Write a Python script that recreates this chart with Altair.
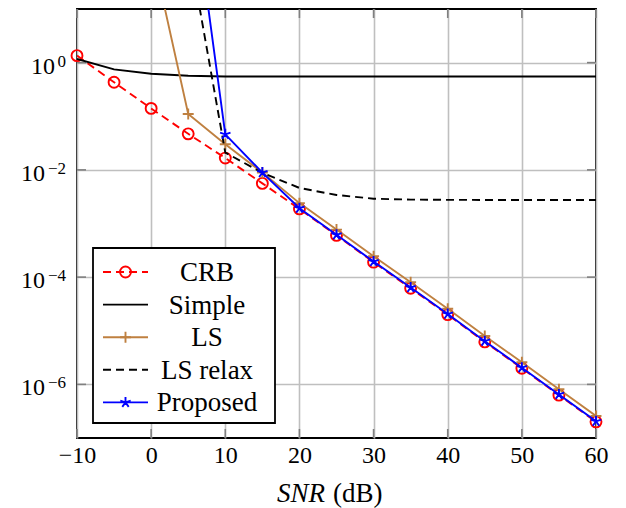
import altair as alt
import pandas as pd

# ---------------- data ----------------
snr = [-10, -5, 0, 5, 10, 15, 20, 25, 30, 35, 40, 45, 50, 55, 60]
crb = [1.35, 0.43, 0.14, 0.047, 0.0166, 0.0056, 0.00187, 6.0e-4, 1.9e-4,
       6.2e-5, 2.0e-5, 6.2e-6, 2.0e-6, 6.3e-7, 2.0e-7]
simple = [1.17, 0.75, 0.62, 0.57, 0.55, 0.55, 0.55, 0.55, 0.55, 0.55,
          0.55, 0.55, 0.55, 0.55, 0.55]

ls_snr = [0, 5, 10, 15, 20, 25, 30, 35, 40, 45, 50, 55, 60]
ls = [145, 0.11, 0.030, 0.0089, 0.0024, 7.7e-4, 2.45e-4, 8.0e-5, 2.58e-5,
      8.0e-6, 2.58e-6, 8.1e-7, 2.58e-7]

relax_snr = [5, 10, 15, 20, 25, 30, 35, 40, 45, 50, 55, 60]
ls_relax = [166, 0.021, 0.0088, 0.0046, 0.0034, 0.0029, 0.00279, 0.00276,
            0.00275, 0.00275, 0.00275, 0.00275]

prop_snr = [5, 10, 15, 20, 25, 30, 35, 40, 45, 50, 55, 60]
proposed = [6300, 0.046, 0.0089, 0.00193, 6.15e-4, 1.95e-4, 6.4e-5, 2.05e-5,
            6.4e-6, 2.05e-6, 6.5e-7, 2.05e-7]

series_names = ["CRB", "Simple", "LS", "LS relax", "Proposed"]
x_ticks = [-10, 0, 10, 20, 30, 40, 50, 60]
y_ticks = [1, 1e-2, 1e-4, 1e-6]
y_exponents = ["0", "\u22122", "\u22124", "\u22126"]

rows = []
for name, xs, ys in [("CRB", snr, crb), ("Simple", snr, simple),
                     ("LS", ls_snr, ls), ("LS relax", relax_snr, ls_relax),
                     ("Proposed", prop_snr, proposed)]:
    for a, b in zip(xs, ys):
        rows.append({"snr": a, "value": b, "series": name})
df = pd.DataFrame(rows)

# ---------------- styles ----------------
W, H = 519, 429
FONT = "Liberation Serif"
LW = 1.9
PLUS = "M-1,0L1,0M0,-1L0,1"
STAR = ("M0,-1L0,0M0.951,-0.309L0,0M0.588,0.809L0,0"
        "M-0.588,0.809L0,0M-0.951,-0.309L0,0")
styles = {
    "CRB": dict(color="#ff0000", dash=[8, 5], shape="circle", size=120),
    "Simple": dict(color="#000000", dash=None, shape=None, size=0),
    "LS": dict(color="#bf8040", dash=None, shape=PLUS, size=120),
    "LS relax": dict(color="#000000", dash=[8, 5], shape=None, size=0),
    "Proposed": dict(color="#0000ff", dash=None, shape=STAR, size=120),
}

xscale = alt.Scale(domain=[-10, 60], nice=False, zero=False)
yscale = alt.Scale(type="log", domain=[1e-7, 10], nice=False)
X = alt.X("snr:Q", scale=xscale, title=None,
          axis=alt.Axis(values=x_ticks, grid=True, ticks=False, domain=False,
                        labelFlush=False, labelOverlap=False,
                        labelPadding=5, labelFont=FONT, labelFontSize=24,
                        labelColor="black", gridColor="#bfbfbf",
                        gridWidth=1.6, gridOpacity=1))
Y = alt.Y("value:Q", scale=yscale, title=None,
          axis=alt.Axis(values=y_ticks, grid=True, ticks=False, domain=False,
                        labels=False, gridColor="#bfbfbf",
                        gridWidth=1.6, gridOpacity=1))

layers = []

# inside tick marks (darker gray) on all four sides
tick_color = "#808080"
xt = pd.DataFrame({"snr": x_ticks})
yt = pd.DataFrame({"value": y_ticks})
layers.append(alt.Chart(xt).mark_rule(color=tick_color, strokeWidth=1.6).encode(
    x=X, y=alt.value(H), y2=alt.value(H - 9)))
layers.append(alt.Chart(xt).mark_rule(color=tick_color, strokeWidth=1.6).encode(
    x=X, y=alt.value(0), y2=alt.value(9)))
layers.append(alt.Chart(yt).mark_rule(color=tick_color, strokeWidth=1.6).encode(
    y=Y, x=alt.value(0), x2=alt.value(9)))
layers.append(alt.Chart(yt).mark_rule(color=tick_color, strokeWidth=1.6).encode(
    y=Y, x=alt.value(W - 9), x2=alt.value(W)))

# y tick labels: "10" with a raised exponent
for v, e in zip(y_ticks, y_exponents):
    d = pd.DataFrame({"value": [v]})
    ew = 9 if len(e) == 1 else 19
    layers.append(alt.Chart(d).mark_text(
        font=FONT, fontSize=17, align="right", baseline="alphabetic",
        color="black", dy=4).encode(
        y=Y, x=alt.value(-11), text=alt.value(e)))
    layers.append(alt.Chart(d).mark_text(
        font=FONT, fontSize=24, align="right", baseline="alphabetic",
        color="black", dy=11).encode(
        y=Y, x=alt.value(-11 - ew - 2), text=alt.value("10")))

# data
for name in series_names:
    st = styles[name]
    base = alt.Chart(df).transform_filter(alt.datum.series == name)
    lk = dict(color=st["color"], strokeWidth=LW, clip=True)
    if st["dash"]:
        lk["strokeDash"] = st["dash"]
    layers.append(base.mark_line(**lk).encode(x=X, y=Y))
    if st["shape"]:
        layers.append(base.transform_filter(alt.datum.value <= 10).mark_point(
            shape=st["shape"], filled=False, size=st["size"],
            strokeWidth=LW, color=st["color"], opacity=1).encode(x=X, y=Y))

# legend (manual)
one = pd.DataFrame({"a": [0]})
layers.append(alt.Chart(one).mark_rect(fill="white", stroke="black",
                                       strokeWidth=1.8).encode(
    x=alt.value(16), x2=alt.value(198), y=alt.value(239), y2=alt.value(414)))
for i, name in enumerate(series_names):
    st = styles[name]
    yy = 263 + i * 32.6
    rk = dict(color=st["color"], strokeWidth=LW)
    if st["dash"]:
        rk["strokeDash"] = st["dash"]
    layers.append(alt.Chart(one).mark_rule(**rk).encode(
        x=alt.value(26), x2=alt.value(71), y=alt.value(yy)))
    if st["shape"]:
        layers.append(alt.Chart(one).mark_point(
            shape=st["shape"], filled=False, size=st["size"], strokeWidth=LW,
            color=st["color"], opacity=1).encode(
            x=alt.value(48.5), y=alt.value(yy)))
    layers.append(alt.Chart(one).mark_text(
        font=FONT, fontSize=27, color="black", align="center",
        baseline="middle").encode(
        x=alt.value(130), y=alt.value(yy + 1), text=alt.value(name)))

# x-axis title: italic SNR + (dB)
layers.append(alt.Chart(one).mark_text(
    font=FONT, fontSize=27, fontStyle="italic", align="right",
    baseline="alphabetic", color="black").encode(
    x=alt.value(248), y=alt.value(493), text=alt.value("SNR")))
layers.append(alt.Chart(one).mark_text(
    font=FONT, fontSize=27, align="left", baseline="alphabetic",
    color="black").encode(
    x=alt.value(256), y=alt.value(493), text=alt.value("(dB)")))

chart = alt.layer(*layers).properties(
    width=W, height=H,
    autosize=alt.AutoSizeParams(type="none"),
    padding={"left": 69, "top": 1, "right": 22, "bottom": 70},
).configure_view(stroke="black", strokeWidth=1.9)

chart.save("out.html", embed_options={"renderer": "svg", "actions": False})
